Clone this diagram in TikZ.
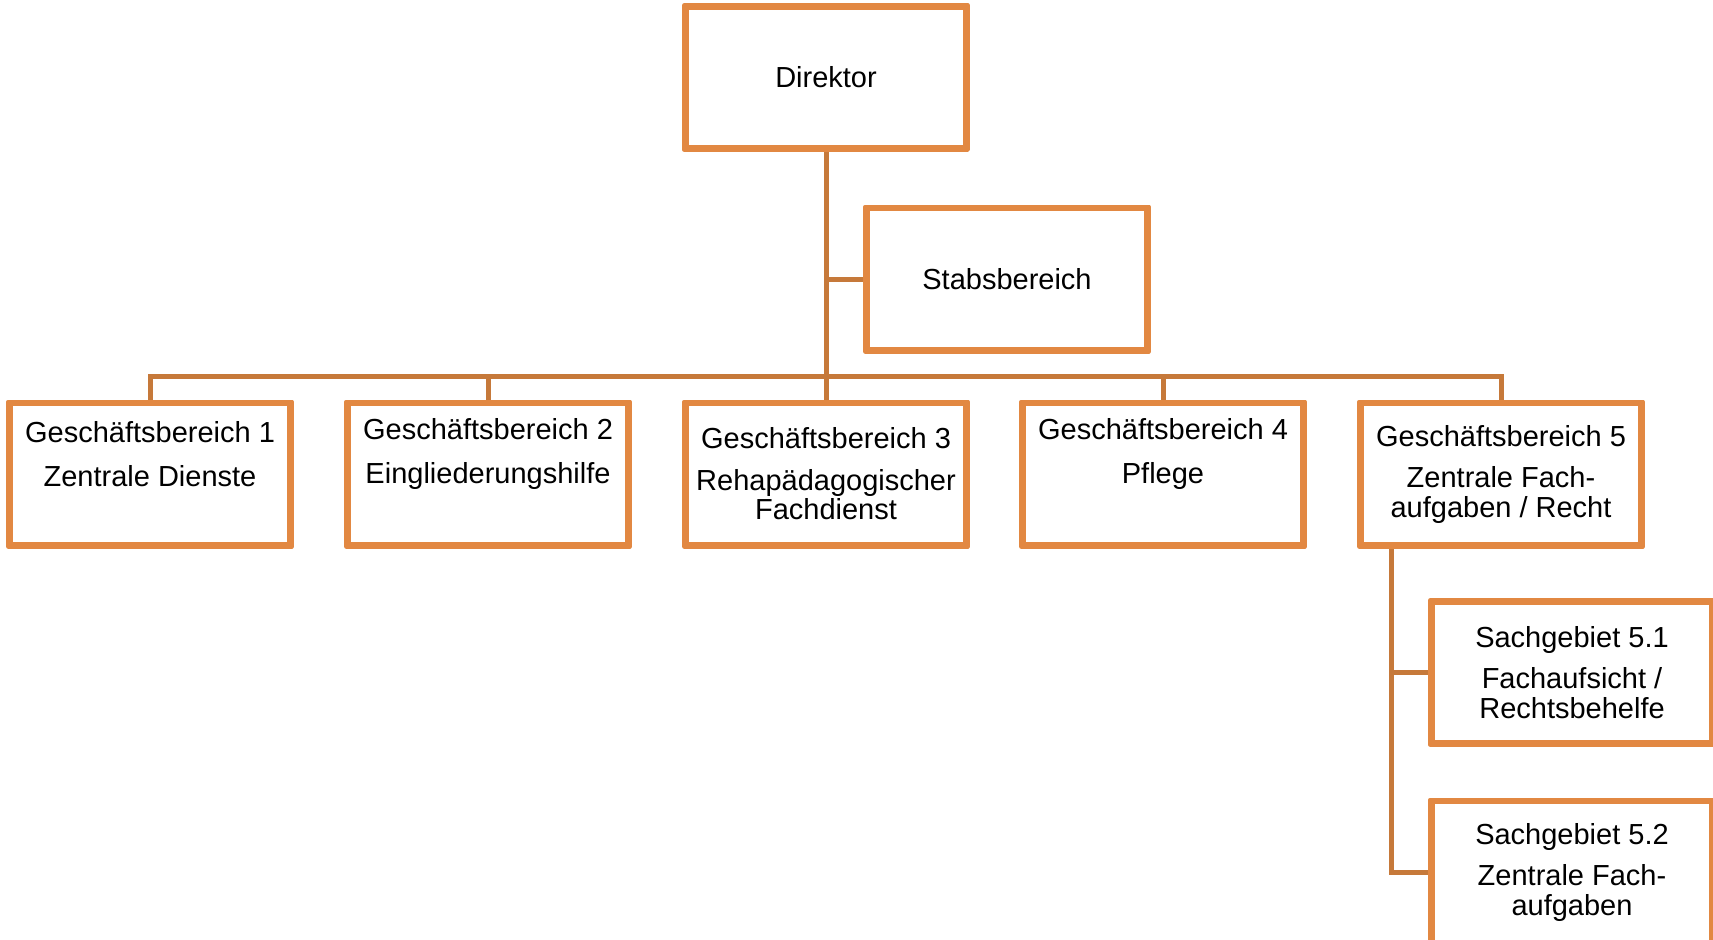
\documentclass[tikz,border=0pt]{standalone}
\usepackage{fontspec}
\setmainfont{Liberation Sans}
\definecolor{boxorange}{RGB}{226,136,66}
\definecolor{lineorange}{RGB}{198,121,58}
\begin{document}
\begin{tikzpicture}[x=0.5pt,y=-0.5pt,
  orgbox/.style={draw=boxorange,line width=2.25pt,line join=round,fill=white,minimum width=139.5pt,minimum height=70pt,inner sep=0pt},
  boxline/.style={draw=boxorange,line width=2.25pt,line join=round},
  orgtext/.style={align=center,inner sep=0pt,font=\fontsize{14.5}{14.75}\selectfont},
  conn/.style={draw=lineorange,line width=2.5pt}]
\useasboundingbox[fill=white] (0,0) rectangle (1713,939);
\begin{scope}
\clip (0,0) rectangle (1713,939);
\coordinate (bus) at (826,376);
\coordinate (g5c) at (1391,544);
\node[orgbox] (dir) at (826,77.5) {};
\node[orgbox] (stabs) at (1007,279) {};
\node[orgbox] (gb1) at (150,474) {};
\node[orgbox] (gb2) at (488,474) {};
\node[orgbox] (gb3) at (826,474) {};
\node[orgbox] (gb4) at (1163,474) {};
\node[orgbox] (gb5) at (1501,474) {};
\node[orgbox] (sg1) at (1572,672.5) {};
\node[orgbox] (sg2) at (1572,872) {};
% connectors
\draw[conn] (dir.south) -- (gb3.north);
\draw[conn] (stabs.west) -- (stabs.west -| dir.south);
\draw[conn] (bus) -| (gb1.north);
\draw[conn] (bus) -| (gb2.north);
\draw[conn] (bus) -| (gb4.north);
\draw[conn] (bus) -| (gb5.north);
\draw[conn] (g5c) |- (sg1.west);
\draw[conn] (g5c) |- (sg2.west);
% redraw box borders on top of connector ends
\foreach \n in {dir,stabs,gb1,gb2,gb3,gb4,gb5,sg1,sg2}{
  \draw[boxline] (\n.south west) rectangle (\n.north east);
}
% texts
\node[orgtext] (dirt) at (dir.center) {Direktor};
\node[orgtext] (stabst) at (stabs.center) {Stabsbereich};
\node[orgtext,yshift=10pt] (gb1t) at (gb1.center) {Geschäftsbereich 1\\[7.5pt]Zentrale Dienste};
\node[orgtext,yshift=10pt] (gb2t) at (gb2.center) {Geschäftsbereich 2\\[7.5pt]Eingliederungshilfe};
\node[orgtext] (gb3t) at (gb3.center) {Geschäftsbereich 3\\[6pt]Rehapädagogischer\\Fachdienst};
\node[orgtext,yshift=10pt] (gb4t) at (gb4.center) {Geschäftsbereich 4\\[7.5pt]Pflege};
\node[orgtext] (gb5t) at (gb5.center) {Geschäftsbereich 5\\[6pt]Zentrale Fach-\\aufgaben / Recht};
\node[orgtext] (sg1t) at (sg1.center) {Sachgebiet 5.1\\[6pt]Fachaufsicht /\\Rechtsbehelfe};
\node[orgtext] (sg2t) at (sg2.center) {Sachgebiet 5.2\\[6pt]Zentrale Fach-\\aufgaben};
\end{scope}
\end{tikzpicture}
\end{document}
